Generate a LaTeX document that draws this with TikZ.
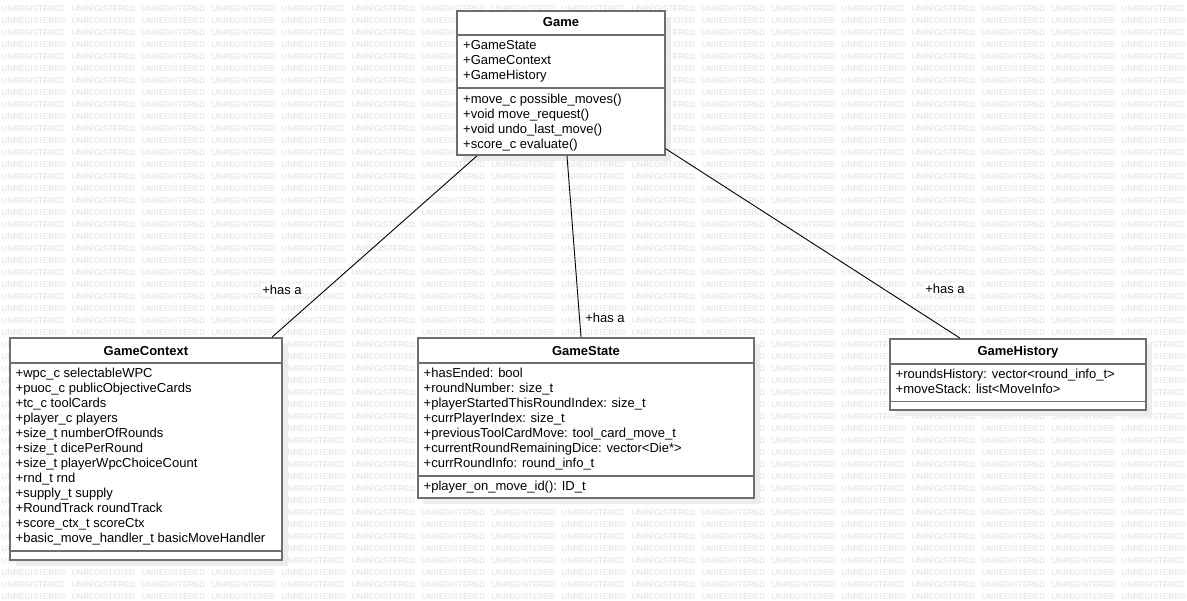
\documentclass[tikz,border=0pt]{standalone}
\usepackage{fontspec}
\setmainfont{Liberation Sans}
\usetikzlibrary{calc,shadows}
\definecolor{bordergray}{RGB}{110,110,110}
\definecolor{wmgray}{RGB}{222,222,222}
\definecolor{shadowgray}{RGB}{236,236,236}
\tikzset{
  wm/.style={anchor=west, inner sep=0pt, text=wmgray, font=\fontsize{8}{8}\selectfont},
  classbox/.style={draw=bordergray, line width=1.7pt, fill=white, inner sep=0pt,
    drop shadow={shadow xshift=6pt, shadow yshift=-6pt, fill=shadowgray, opacity=1}},
  sepline/.style={draw=bordergray, line width=1.7pt},
  txt/.style={anchor=base west, inner sep=0pt, font=\fontsize{13}{15}\selectfont},
  ttl/.style={anchor=base, inner sep=0pt, font=\fontsize{13}{15}\selectfont\bfseries},
  assoc/.style={draw=black, line width=0.9pt},
  lbl/.style={fill=white, inner sep=1pt, font=\fontsize{13}{15}\selectfont},
}
\newcommand\clslines[4]{%
  \foreach \t [count=\i from 0] in {#4} {\node[txt] (#1\i) at (#2, {#3+15*\i}) {\t};}}
\begin{document}
\begin{tikzpicture}[x=1pt,y=-1pt]
\fill[white] (0,0) rectangle (1187,601);
\useasboundingbox (0,0) rectangle (1187,601);
% watermark
\foreach \r in {0,...,49} {
  \foreach \c in {0,...,16} {
    \node[wm] at ({70*\c+1.5}, {9+12*\r}) {UNREGISTERED};
  }
}
% class boxes
\node[classbox, minimum width=208pt, minimum height=144pt] (game) at (561,83) {};
\node[classbox, minimum width=272pt, minimum height=222pt] (ctx) at (146,449) {};
\node[classbox, minimum width=336pt, minimum height=160pt] (state) at (586,418) {};
\node[classbox, minimum width=256pt, minimum height=71pt] (hist) at (1018,374.5) {};
% separators
\draw[sepline] (457,35) -- (665,35);
\draw[sepline] (457,88.3) -- (665,88.3);
\draw[sepline] (10,363.3) -- (282,363.3);
\draw[sepline] (10,551) -- (282,551);
\draw[sepline] (418,363.3) -- (754,363.3);
\draw[sepline] (418,475.7) -- (754,475.7);
\draw[sepline] (890,364) -- (1146,364);
\draw[sepline] (890,401.5) -- (1146,401.5);
% titles
\node[ttl] (gameT) at (561,27) {Game};
\node[ttl] (ctxT) at (146,355.5) {GameContext};
\node[ttl] (stateT) at (586,355.5) {GameState};
\node[ttl] (histT) at (1018,355.5) {GameHistory};
% members
\clslines{ga}{463}{49.7}{+GameState, +GameContext, +GameHistory}
\clslines{gm}{463}{103.5}{{+move\_c possible\_moves()}, {+void move\_request()}, {+void undo\_last\_move()}, {+score\_c evaluate()}}
\clslines{ca}{15.5}{378}{+wpc\_c selectableWPC, +puoc\_c publicObjectiveCards, +tc\_c toolCards, +player\_c players, +size\_t numberOfRounds, +size\_t dicePerRound, +size\_t playerWpcChoiceCount, +rnd\_t rnd, +supply\_t supply, +RoundTrack roundTrack, +score\_ctx\_t scoreCtx, +basic\_move\_handler\_t basicMoveHandler}
\clslines{sa}{423.5}{378}{+hasEnded: bool, +roundNumber: size\_t, +playerStartedThisRoundIndex: size\_t, +currPlayerIndex: size\_t, +previousToolCardMove: tool\_card\_move\_t, +currentRoundRemainingDice: vector<Die*>, +currRoundInfo: round\_info\_t}
\clslines{sm}{423.5}{491}{{+player\_on\_move\_id(): ID\_t}}
\clslines{ha}{895.5}{378.8}{+roundsHistory: vector<round\_info\_t>, +moveStack: list<MoveInfo>}
% association labels
\node[lbl] (l1) at (282,290) {+has a};
\node[lbl] (l2) at (605,317.5) {+has a};
\node[lbl] (l3) at (945,288.5) {+has a};
% connectors
\draw[assoc] ([xshift=-84pt]game.south) -- ([xshift=126pt]ctx.north);
\draw[assoc] ([xshift=6pt]game.south) -- ([xshift=-5pt]state.north);
\draw[assoc] ([yshift=7pt]game.south east) -- ([xshift=-58pt]hist.north);
\end{tikzpicture}
\end{document}
